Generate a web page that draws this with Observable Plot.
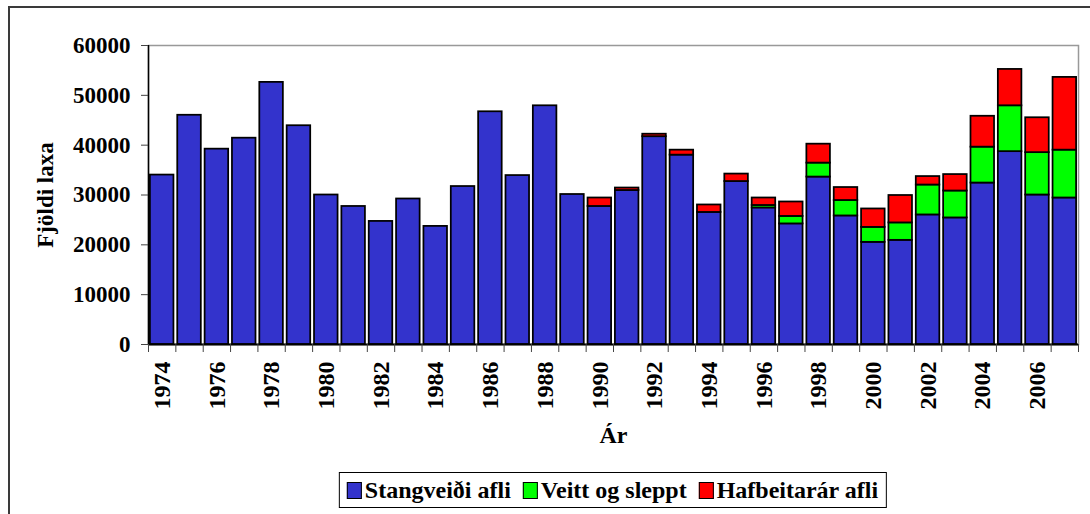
<!DOCTYPE html>
<html><head><meta charset="utf-8">
<script src="https://cdn.jsdelivr.net/npm/d3@7"></script>
<script src="https://cdn.jsdelivr.net/npm/@observablehq/plot@0.6"></script>
<style>
html,body{margin:0;padding:0;background:#fff;}
body{width:1090px;height:514px;overflow:hidden;position:relative;font-family:"Liberation Serif","Times New Roman",serif;}
#chart{position:absolute;left:0;top:0;}
#frame{position:absolute;left:8px;top:6px;width:1300px;height:800px;border:2px solid #3a3a3a;box-sizing:border-box;pointer-events:none;}
#legend{position:absolute;top:472px;height:36px;border:1px solid #000;box-sizing:border-box;display:flex;align-items:center;padding:0 8px 0 7px;font-weight:bold;font-size:24px;white-space:nowrap;transform:translateX(-50%);background:#fff;}
#legend .item{display:flex;align-items:center;margin-right:12px;}
#legend .item:last-child{margin-right:0;}
#legend .sw{width:13px;height:15px;border:1.5px solid #000;margin-right:3px;}
</style></head><body>
<div id="chart"></div>
<div id="frame"></div>
<div id="legend"></div>
<script>
const years = [1974,1975,1976,1977,1978,1979,1980,1981,1982,1983,1984,1985,1986,1987,1988,1989,1990,1991,1992,1993,1994,1995,1996,1997,1998,1999,2000,2001,2002,2003,2004,2005,2006,2007];
const stangveidi = [34000,46000,39200,41400,52600,43900,30000,27700,24700,29200,23700,31700,46700,33900,47900,30100,27700,30900,41700,38000,26500,32700,27400,24200,33600,25800,20500,20900,26000,25400,32400,38700,30000,29400];
const veitt = [0,0,0,0,0,0,0,0,0,0,0,0,0,0,0,0,0,0,0,0,0,0,500,1500,2800,3100,3000,3500,6000,5400,7200,9200,8500,9600];
const hafbeit = [0,0,0,0,0,0,0,0,0,0,0,0,0,0,0,0,1700,500,500,1000,1500,1500,1500,2900,3800,2600,3700,5500,1700,3300,6200,7300,7000,14600];
const seriesNames = ["Stangveiði afli","Veitt og sleppt","Hafbeitarár afli"];
const seriesColors = ["#3333CC","#00FF00","#FF0000"];
const yTicks = [0,10000,20000,30000,40000,50000,60000];
const xTickLabels = years.filter(y => y % 2 === 0);
const yLabel = "Fjöldi laxa";
const xLabel = "Ár";

const seriesValues = [stangveidi, veitt, hafbeit];
const rows = [];
years.forEach((yr, i) => {
  let base = 0;
  seriesValues.forEach((arr, k) => {
    const v = arr[i];
    if (v > 0) rows.push({year: yr, series: seriesNames[k], y1: base, y2: base + v});
    base += v;
  });
});

const W = 1090, mL = 148, mR = 12, mT = 45, mB = 118, H = 462;
const xStart = years[0] - 0.5, xEnd = years[years.length - 1] + 0.5;
const boundaries = [...years.map(y => y - 0.5), xEnd];
const font = '"Liberation Serif","Times New Roman",serif';

const chart = Plot.plot({
  width: W, height: H,
  marginLeft: mL, marginRight: mR, marginTop: mT, marginBottom: mB,
  style: {background: "transparent", fontFamily: font, fontWeight: "bold", color: "black"},
  x: {domain: [xStart, xEnd]},
  y: {domain: [0, 60000]},
  color: {domain: seriesNames, range: seriesColors},
  marks: [
    Plot.frame({stroke: "#999", strokeWidth: 1.5}),
    Plot.rectY(rows, {x1: d => d.year - 0.5, x2: d => d.year + 0.5, y1: "y1", y2: "y2", fill: "series", stroke: "black", strokeWidth: 1.75, insetLeft: 1.9, insetRight: 1.9}),
    Plot.ruleY([0], {stroke: "black", strokeWidth: 2}),
    Plot.ruleX([xStart], {stroke: "black", strokeWidth: 1.5}),
    Plot.axisY({ticks: yTicks, tickSize: 7, tickPadding: 11, tickFormat: d => String(d), fontSize: 23, fontWeight: "bold", stroke: "#444",
      label: yLabel, labelAnchor: "center", labelArrow: "none", labelOffset: 112}),
    Plot.axisX({ticks: boundaries, tickSize: 8, tickFormat: () => "", stroke: "#444", label: null}),
    Plot.axisX({ticks: xTickLabels, tickSize: 0, tickPadding: 17, rotate: -90, textAnchor: "end", lineAnchor: "middle", tickFormat: d => String(d), fontSize: 24, fontWeight: "bold",
      label: xLabel, labelAnchor: "center", labelArrow: "none", labelOffset: 98})
  ]
});
document.getElementById("chart").appendChild(chart);

const legend = document.getElementById("legend");
legend.style.left = (mL + (W - mL - mR) / 2) + "px";
seriesNames.forEach((n, i) => {
  const item = document.createElement("div");
  item.className = "item";
  const sw = document.createElement("div");
  sw.className = "sw";
  sw.style.background = seriesColors[i];
  const t = document.createElement("span");
  t.textContent = n;
  item.appendChild(sw);
  item.appendChild(t);
  legend.appendChild(item);
});
</script>
</body></html>
